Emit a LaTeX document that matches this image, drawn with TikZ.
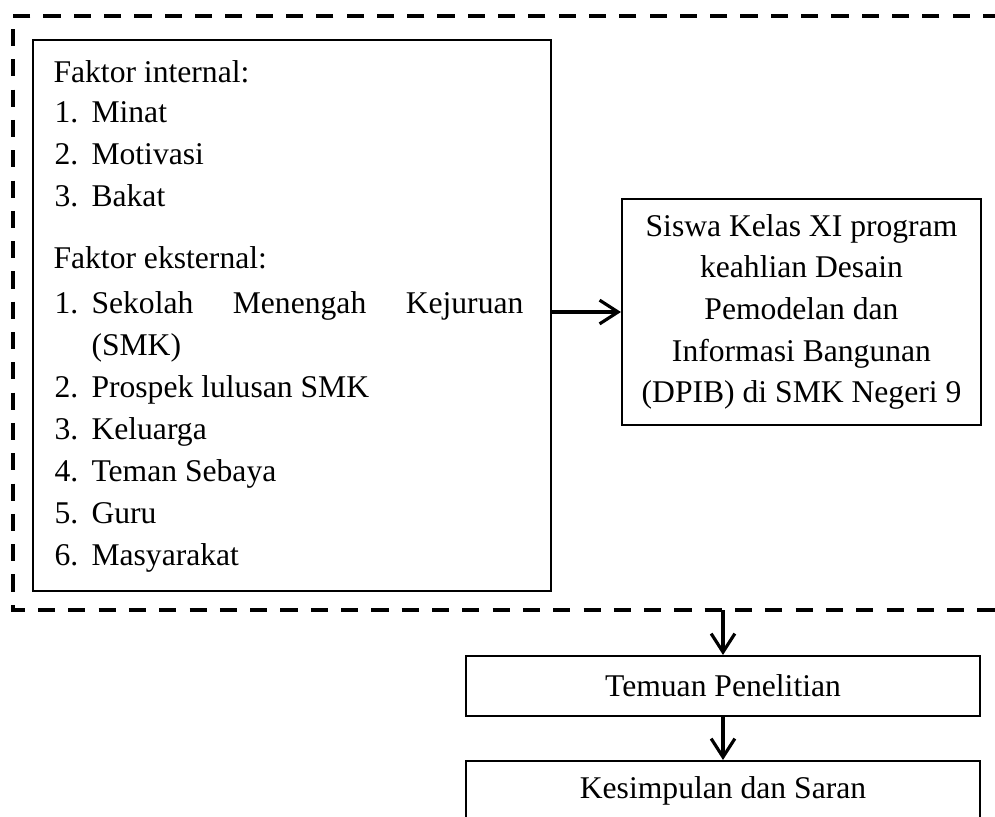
\documentclass[tikz,border=0pt]{standalone}
\usepackage{fontspec}
\setmainfont{Liberation Serif}
\usetikzlibrary{arrows.meta}

\begin{document}
\begin{tikzpicture}
[x=0.3795pt,y=-0.3795pt,
  boxDecorate/.style={draw,line width=0.8pt,inner sep=0pt,font=\fontsize{12}{15.8}\selectfont},
  textDecorate/.style={anchor=base west,inner sep=0pt,font=\fontsize{12}{15.8}\selectfont},
  arrowDecorate/.style={-{Straight Barb[length=7pt,width=9pt]},line width=1.2pt},
  dashDecorate/.style={line width=1.3pt,dash pattern=on 6.5pt off 5pt}]
\clip (0,0) rectangle (995,816);
%% dashed frame round the factors
\draw[dashDecorate] (1000,16) -| (13,610) -- (1000,610);
%% boxes
\node (faktor) at (292,315.5) [boxDecorate,minimum width=518*0.3795pt,minimum height=551*0.3795pt] {};
\node (siswa) at (801.5,312) [boxDecorate,align=center,minimum width=359*0.3795pt,minimum height=226*0.3795pt]
  {Siswa Kelas XI program\\keahlian Desain\\Pemodelan dan\\Informasi Bangunan\\(DPIB) di SMK Negeri 9};
\node (temuan) at (723,686) [boxDecorate,minimum width=514*0.3795pt,minimum height=60*0.3795pt] {Temuan Penelitian};
\node (kesimpulan) at (723,791) [boxDecorate,minimum width=514*0.3795pt,minimum height=60*0.3795pt] {Kesimpulan dan Saran};
%% texts in the factor box
\node (internal) at (53,82) [textDecorate] {Faktor internal:};
\node (eksternal) at (53,268) [textDecorate] {Faktor eksternal:};
\foreach \nm/\y/\num/\txt in {minat/122/1./Minat, motivasi/164/2./Motivasi, bakat/206/3./Bakat,
  smk/313/1./{\makebox[163.9pt][s]{Sekolah\hfill Menengah\hfill Kejuruan}}, smkb/355/{}/(SMK),
  prospek/397/2./Prospek lulusan SMK, keluarga/439/3./Keluarga, teman/481/4./Teman Sebaya,
  guru/523/5./Guru, masyarakat/565/6./Masyarakat}
{
  \node (num\nm) at (54,\y) [textDecorate] {\num};
  \node (item\nm) at (91,\y) [textDecorate] {\txt};
}
%% arrows
\coordinate (frameout) at (temuan.north |- 0,610);
\draw[arrowDecorate] (siswa.west -| faktor.east) -- (siswa.west);
\draw[arrowDecorate] (frameout) -- (temuan.north);
\draw[arrowDecorate] (temuan.south) -- (kesimpulan.north);
\end{tikzpicture}
\end{document}
